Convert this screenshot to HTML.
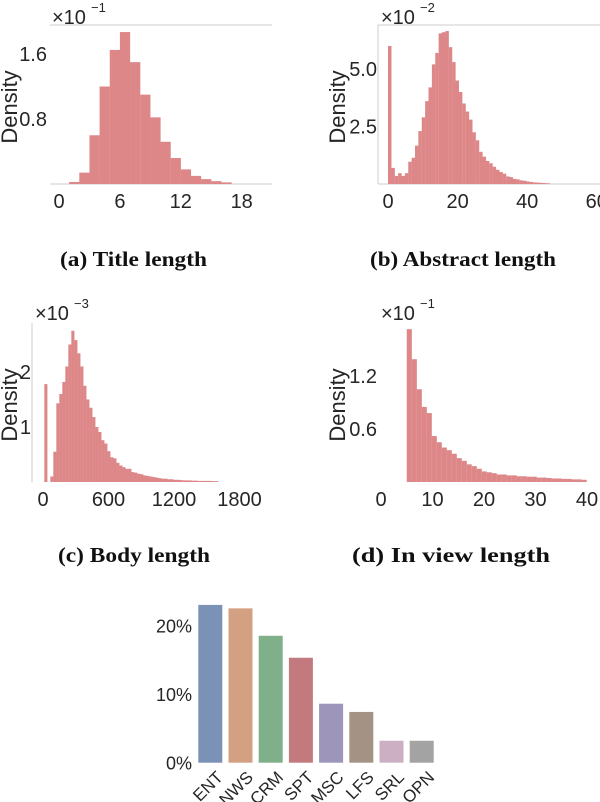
<!DOCTYPE html>
<html><head><meta charset="utf-8">
<style>
html,body{margin:0;padding:0;background:#fff;}
svg{display:block;}
text{font-family:"Liberation Sans",sans-serif;fill:#262626;}
.cap{font-family:"Liberation Serif",serif;font-weight:bold;font-size:21px;fill:#111;}
</style></head>
<body>
<svg id="fig" width="600" height="802" viewBox="0 0 600 802" xmlns="http://www.w3.org/2000/svg">
  <g id="pa"></g>
  <g id="pb"></g>
  <g id="pc"></g>
  <g id="pd"></g>
  <g id="pe"></g>
  <text class="cap" x="60" y="266" textLength="147" lengthAdjust="spacingAndGlyphs">(a) Title length</text>
  <text class="cap" x="370" y="266" textLength="186" lengthAdjust="spacingAndGlyphs">(b) Abstract length</text>
  <text class="cap" x="58" y="562" textLength="152" lengthAdjust="spacingAndGlyphs">(c) Body length</text>
  <text class="cap" x="352" y="562" textLength="198" lengthAdjust="spacingAndGlyphs">(d) In view length</text>
</svg>
<script>
// ---- data ----
const titleBinStart = 1, titleBinWidth = 1;
const titleValues = [0.025,0.14,0.6,1.2,1.65,1.87,1.5,1.1,0.82,0.52,0.32,0.18,0.1,0.06,0.035,0.02];
const titleXTicks = [0,6,12,18];
const titleYTicks = [0.8,1.6];

const abstractBinStart = 0, abstractBinWidth = 0.97;
const abstractValues = [6.0,0.7,0.35,0.47,0.35,0.47,0.97,1.14,1.67,2.3,2.9,3.6,4.2,5.2,5.7,6.55,6.6,6.65,5.95,5.3,4.5,4.0,3.5,3.15,2.8,2.25,1.9,1.4,1.19,1.0,0.9,0.75,0.62,0.52,0.45,0.33,0.3,0.22,0.2,0.16,0.14,0.11,0.09,0.07,0.06,0.05,0.04,0.03];
const abstractXTicks = [0,20,40,60];
const abstractYTicks = [2.5,5.0];

const bodyBinStart = 12, bodyBinWidth = 27.5;
const bodyValues = [1.78,0,0.1,0.55,1.43,1.6,1.82,2.1,2.5,2.75,2.58,2.34,2.1,1.75,1.5,1.35,1.18,1.0,0.91,0.76,0.7,0.56,0.45,0.43,0.35,0.3,0.27,0.24,0.24,0.18,0.17,0.15,0.14,0.12,0.11,0.1,0.09,0.08,0.07,0.06,0.06,0.05,0.05,0.04,0.04,0.035,0.03,0.03,0.03,0.025,0.025,0.02,0.02,0.02,0.02,0.02,0.015,0.015];
const bodyXTicks = [0,600,1200,1800];
const bodyYTicks = [1,2];

const viewBinStart = 5, viewBinWidth = 0.97;
const viewValues = [1.73,1.39,1.05,0.85,0.78,0.52,0.45,0.39,0.36,0.32,0.27,0.24,0.2,0.18,0.15,0.12,0.11,0.1,0.085,0.085,0.075,0.075,0.065,0.065,0.06,0.06,0.05,0.05,0.045,0.04,0.04,0.035,0.035,0.03,0.03,0.025];
const viewXTicks = [0,10,20,30,40];
const viewYTicks = [0.6,1.2];

const catNames = ["ENT","NWS","CRM","SPT","MSC","LFS","SRL","OPN"];
const catValues = [23.0,22.5,18.5,15.3,8.6,7.4,3.2,3.2];
const catYTicks = [0,10,20];

// ---- helpers ----
const NS = "http://www.w3.org/2000/svg";
function mk(parent, tag, attrs, text){
  const e = document.createElementNS(NS, tag);
  for (const k in attrs) e.setAttribute(k, attrs[k]);
  if (text !== undefined) e.textContent = text;
  parent.appendChild(e);
  return e;
}
function hist(g, cfg, start, width, values, xticks, yticks){
  const sx = v => cfg.x0 + (v - cfg.xmin) * cfg.kx;
  const sy = v => cfg.y0 - v * cfg.ky;
  values.forEach((v,i)=>{
    const xl = sx(start + i*width);
    const r = mk(g, "rect", {x: xl, y: sy(v), width: width*cfg.kx + 0.1, height: cfg.y0 - sy(v), fill: "#dd8789"});
    
    
  });
  xticks.forEach(t=>{
    const tx = mk(g, "text", {x: sx(t), y: cfg.y0 + 24, "text-anchor": "middle", "font-size": 20}, String(t));
    
    
  });
  yticks.forEach(t=>{
    const tx = mk(g, "text", {x: cfg.yLabX, y: sy(t) + 7, "text-anchor": "end", "font-size": 20}, cfg.fmt(t));
    
    
  });
  const yl = mk(g, "text", {x: 0, y: 0, transform: `translate(${cfg.ylX},${cfg.ylY}) rotate(-90)`, "text-anchor": "middle", "font-size": 22}, "Density");
  
  
  const m = mk(g, "text", {x: cfg.mulX, y: cfg.mulY, "font-size": 20}, "×10");
  
  
  const s = mk(g, "text", {x: cfg.mulX + 39, y: cfg.mulY - 12, "font-size": 13}, cfg.exp);
  
  
}

// (a)
const ga = document.getElementById("pa");
mk(ga,"line",{x1:50,y1:25,x2:272,y2:25,stroke:"#cccccc","stroke-width":1});
mk(ga,"line",{x1:50,y1:184,x2:272,y2:184,stroke:"#cccccc","stroke-width":1});
hist(ga,{x0:59,xmin:0,kx:10.15,y0:184,ky:81.25,yLabX:47,fmt:v=>v.toFixed(1),ylX:17,ylY:107,mulX:52,mulY:24,exp:"−1"},
  titleBinStart,titleBinWidth,titleValues,titleXTicks,titleYTicks);

// (b)
const gb = document.getElementById("pb");
mk(gb,"line",{x1:378,y1:25,x2:600,y2:25,stroke:"#cccccc","stroke-width":1});
mk(gb,"line",{x1:378,y1:184,x2:600,y2:184,stroke:"#cccccc","stroke-width":1});
mk(gb,"line",{x1:378,y1:25,x2:378,y2:184,stroke:"#cccccc","stroke-width":1});
hist(gb,{x0:388,xmin:0,kx:3.48,y0:184,ky:23,yLabX:377,fmt:v=>v.toFixed(1),ylX:345,ylY:107,mulX:381,mulY:24,exp:"−2"},
  abstractBinStart,abstractBinWidth,abstractValues,abstractXTicks,abstractYTicks);

// (c)
const gc = document.getElementById("pc");
mk(gc,"line",{x1:32,y1:323,x2:32,y2:482,stroke:"#cccccc","stroke-width":1});
hist(gc,{x0:43,xmin:0,kx:65.5/600,y0:482,ky:55,yLabX:31,fmt:v=>String(v),ylX:17,ylY:405,mulX:35,mulY:320,exp:"−3"},
  bodyBinStart,bodyBinWidth,bodyValues,bodyXTicks,bodyYTicks);

// (d)
const gd = document.getElementById("pd");
hist(gd,{x0:381,xmin:0,kx:5.15,y0:482,ky:53/0.6,yLabX:377,fmt:v=>v.toFixed(1),ylX:345,ylY:405,mulX:381,mulY:320,exp:"−1"},
  viewBinStart,viewBinWidth,viewValues,viewXTicks,viewYTicks);

// (e) category bar chart
const ge = document.getElementById("pe");
const colors = ["#7b91b5","#d4a082","#80b08a","#c27a7e","#9d96ba","#a49384","#cdafc3","#a3a3a3"];
const by0 = 762.7, bk = 6.86;
const bx = i => 198.3 + i * 30.2;
catValues.forEach((v,i)=>{
  const r = mk(ge,"rect",{x:bx(i),y:by0 - v*bk,width:24,height:v*bk,fill:colors[i]});
  
  
  const cx = bx(i) + 16, cy = by0 + 6;
  const t = mk(ge,"text",{x:0,y:0,transform:`translate(${cx},${cy}) rotate(-45)`,"text-anchor":"end","font-size":17,dy:"0.8em"},catNames[i]);
  
  
});
catYTicks.forEach(t=>{
  const tx = mk(ge,"text",{x:192,y:by0 - t*bk + 7,"text-anchor":"end","font-size":18},t + "%");
  
  
});
</script>
</body></html>
